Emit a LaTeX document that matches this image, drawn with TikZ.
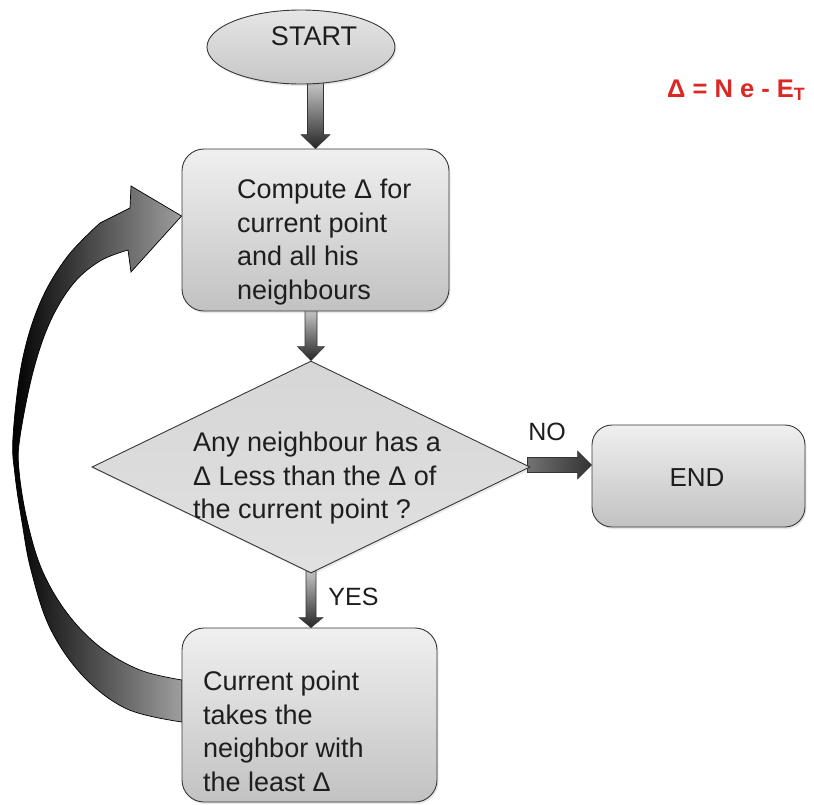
\documentclass[tikz,border=0pt]{standalone}
\usepackage{fontspec}
\setmainfont{Liberation Sans}
\usetikzlibrary{shapes.geometric,calc,shadows,backgrounds}
\definecolor{edgegray}{RGB}{55,55,55}
\definecolor{redtxt}{RGB}{218,40,36}
\definecolor{txt}{RGB}{30,30,30}
\tikzset{
  softshadow/.style={drop shadow={opacity=0.18, shadow xshift=1.5pt, shadow yshift=-2pt}},
  flowbox/.style={draw=edgegray, line width=0.9pt, rounded corners=22pt,
    top color=white!94!black, bottom color=white!76!black, inner sep=0pt, softshadow},
  startshape/.style={ellipse, draw=edgegray, line width=0.9pt,
    top color=white!90!black, bottom color=white!78!black, inner sep=0pt, softshadow},
  decisionshape/.style={diamond, draw=edgegray, line width=0.9pt,
    top color=white!84!black, bottom color=white!88!black, inner sep=0pt, softshadow},
  bodytext/.style={inner sep=0pt, align=left, text=txt, font=\fontsize{27}{33.5}\selectfont},
  labeltext/.style={inner sep=0pt, text=txt, font=\fontsize{25}{30}\selectfont},
  vblock/.style={draw=black!80, line width=0.6pt, top color=black!22, bottom color=black!85},
  hblock/.style={draw=black!80, line width=0.6pt, left color=black!55, right color=black!80},
  curvearrow/.style={draw=black, line width=0.7pt, left color=black, right color=black!38},
}
% vertical block arrow: from, to, shaft half width, head half width, head length
\newcommand{\vblockarrow}[5]{%
  \path[vblock] ($(#1)+(-#3,0)$) -- ($(#2)+(-#3,-#5)$) -- ($(#2)+(-#4,-#5)$) -- (#2)
    -- ($(#2)+(#4,-#5)$) -- ($(#2)+(#3,-#5)$) -- ($(#1)+(#3,0)$) -- cycle;}
% horizontal block arrow (left to right)
\newcommand{\hblockarrow}[5]{%
  \path[hblock] ($(#1)+(0,-#3)$) -- ($(#2)+(-#5,-#3)$) -- ($(#2)+(-#5,-#4)$) -- (#2)
    -- ($(#2)+(-#5,#4)$) -- ($(#2)+(-#5,#3)$) -- ($(#1)+(0,#3)$) -- cycle;}
\begin{document}
\begin{tikzpicture}[x=1pt, y=-1pt]
\useasboundingbox (0,0) rectangle (814,804);

% nodes
\node[startshape, minimum width=188, minimum height=74] (start) at (301,47) {};
\node[labeltext, font=\fontsize{27}{33.5}\selectfont, anchor=base] (starttext) at (314,45) {START};

\node[flowbox, minimum width=267, minimum height=162] (compute) at (315.5,230) {};
\node[bodytext, anchor=north west] (computetext) at (237,179)
  {Compute Δ for\\current point\\and all his\\neighbours};

\node[decisionshape, minimum width=438, minimum height=212] (decision) at (311,467) {};
\node[bodytext, anchor=north west] (decisiontext) at (193,432)
  {Any neighbour has a\\Δ Less than the Δ of\\the current point ?};

\node[flowbox, rounded corners=20pt, minimum width=213, minimum height=102] (end) at (698.5,476) {};
\node[bodytext, font=\fontsize{26}{30}\selectfont] (endtext) at (697,478) {END};

\node[flowbox, minimum width=255, minimum height=174] (current) at (309.5,715) {};
\node[bodytext, anchor=north west] (currenttext) at (203,671)
  {Current point\\takes the\\neighbor with\\the least Δ};

\node[labeltext, anchor=base] (nolabel) at (547,440) {NO};
\node[labeltext, anchor=base] (yeslabel) at (353.5,605) {YES};

\node[inner sep=0pt, anchor=base west, text=redtxt, font=\bfseries\fontsize{25.5}{30}\selectfont] (formula) at (667,97)
  {Δ = N e - E\textsubscript{T}};

% connectors (behind the shapes)
\begin{pgfonlayer}{background}
\fill[white] (0,0) rectangle (814,804);
\coordinate (a1) at ($(start.south -| compute.north)+(0,-2)$);
\vblockarrow{a1}{compute.north}{8}{14.5}{14}
\coordinate (a2) at ($(compute.south -| decision.north)+(0,-1)$);
\vblockarrow{a2}{decision.north}{6}{13.5}{14}
\coordinate (a3) at ($(decision.south)+(0,-3)$);
\coordinate (a3t) at (decision.south |- current.north);
\vblockarrow{a3}{a3t}{5}{12}{10}
\coordinate (a4) at ($(decision.east)+(-3,-2)$);
\coordinate (a4t) at ($(decision.east -| end.west)+(0,-2)$);
\hblockarrow{a4}{a4t}{7.5}{14}{14}

% big curved return arrow from current to compute
\coordinate (tip) at (compute.west |- 0,216);
\path[curvearrow]
  plot[smooth, tension=0.6] coordinates {(182,680) (140,670) (100,647) (67,613) (42,570) (27,520) (19,470) (20,437) (33,372) (50,322) (73,284) (100,261) (128,250)}
  -- (131,272) -- (tip) -- (131,186) -- (130,208)
  -- plot[smooth, tension=0.6] coordinates {(100,223) (67,257) (40,303) (22,362) (13,437) (15,475) (22,522) (31,570) (50,628) (83,676) (127,709) (182,722)}
  -- cycle;
\end{pgfonlayer}
\end{tikzpicture}
\end{document}
